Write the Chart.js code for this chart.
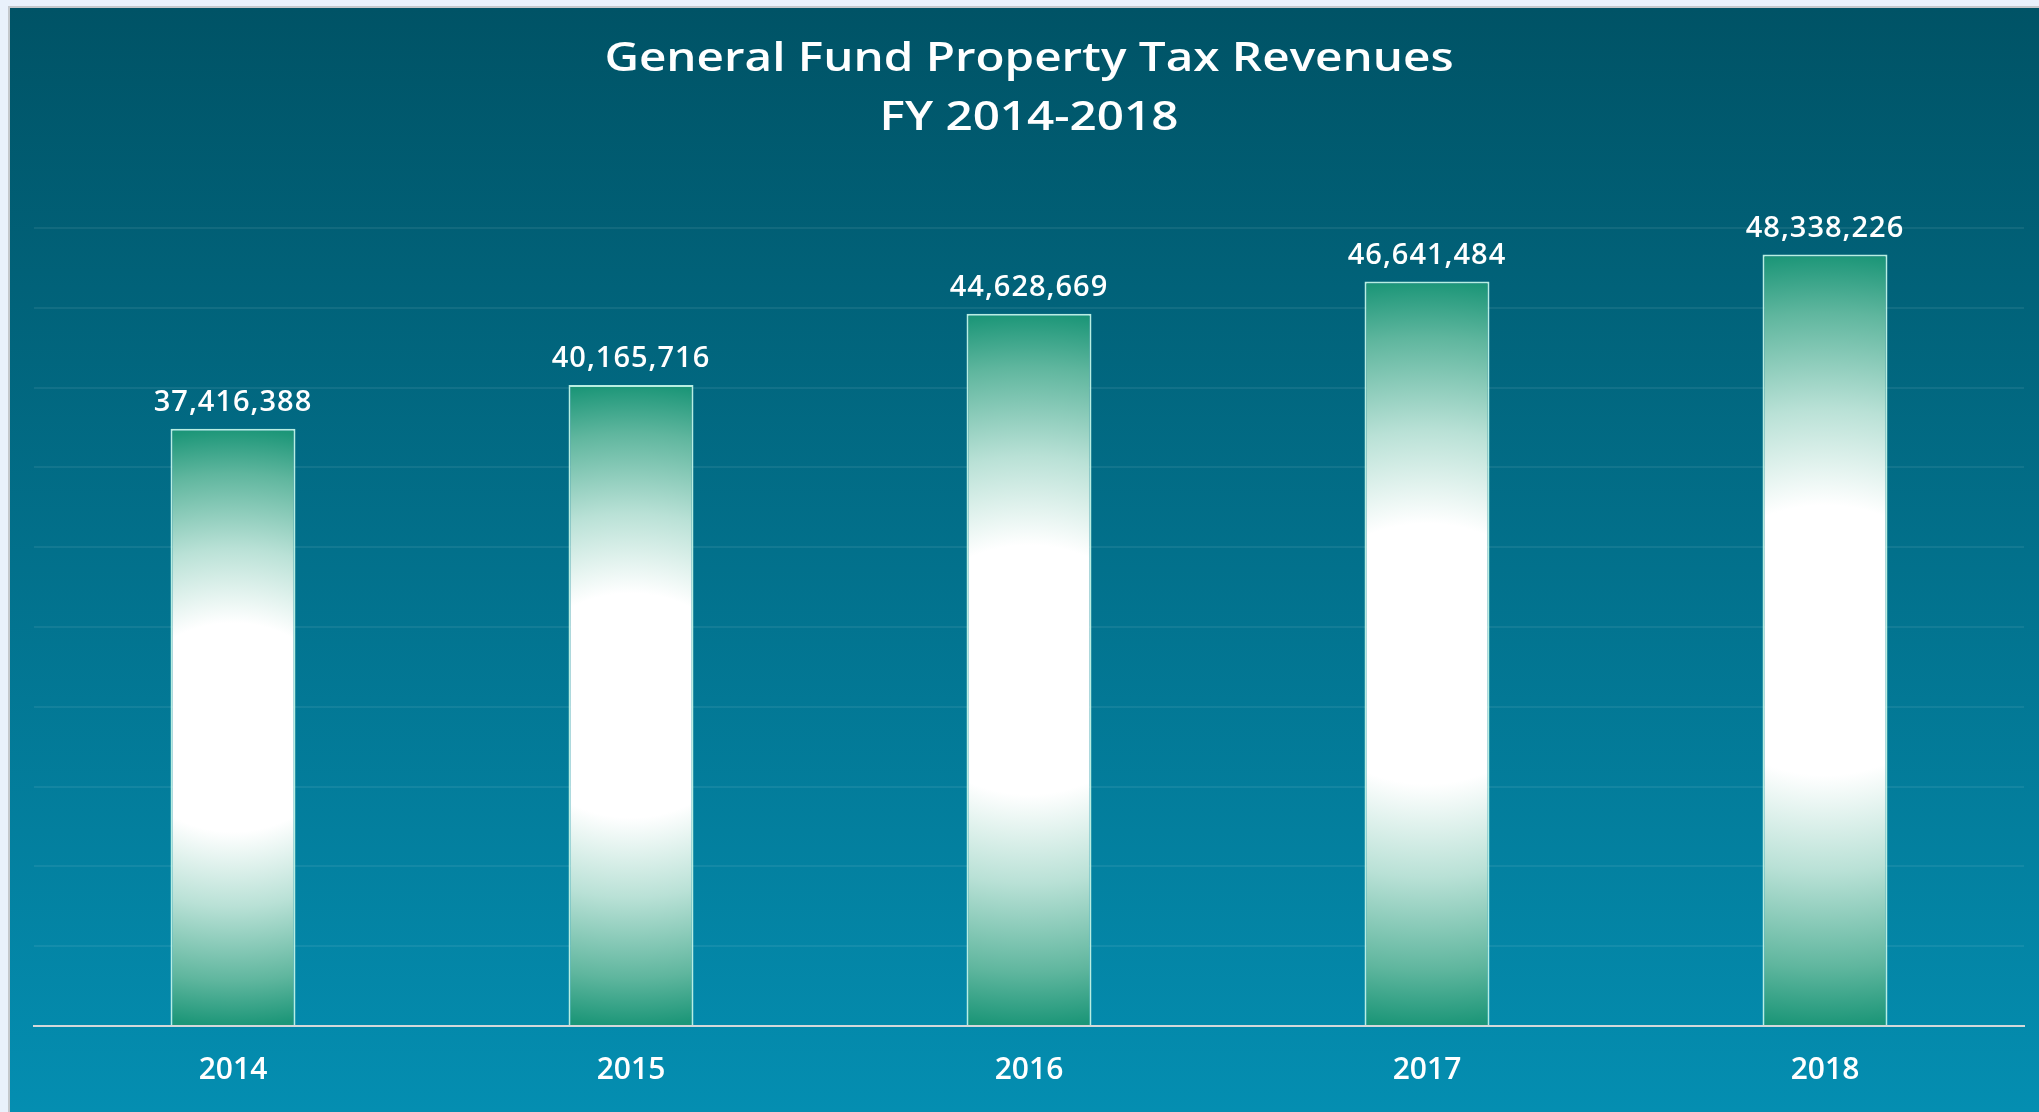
<!DOCTYPE html>
<html>
<head>
<meta charset="utf-8">
<script src="https://cdn.jsdelivr.net/npm/chart.js@4/dist/chart.umd.min.js"></script>
<style>
  html, body { margin: 0; padding: 0; background: #e9f1fb; overflow: hidden; }
  #wrap { position: absolute; left: 0; top: 0; width: 2039px; height: 1112px; }
</style>
</head>
<body>
<div id="wrap"><canvas id="chart" width="2039" height="1112"></canvas></div>
<script>
// chart data
const years = ['2014', '2015', '2016', '2017', '2018'];
const revenues = [37416388, 40165716, 44628669, 46641484, 48338226];
const titleLines = ['General Fund Property Tax Revenues', 'FY 2014-2018'];

const GREEN = '#1c9678';
const FONT = '"Open Sans", "DejaVu Sans", sans-serif';

// page background + teal panel behind the chart
const panelBg = {
  id: 'panelBg',
  beforeDraw(chart) {
    const { ctx, width, height } = chart;
    ctx.save();
    ctx.fillStyle = '#e9f1fb';
    ctx.fillRect(0, 0, width, height);
    const g = ctx.createLinearGradient(0, 8, 0, height);
    g.addColorStop(0, '#005366');
    g.addColorStop(1, '#048eb1');
    ctx.fillStyle = g;
    ctx.fillRect(10, 8, width - 10, height - 8);
    ctx.strokeStyle = '#c4c8cc';
    ctx.lineWidth = 2;
    ctx.beginPath();
    ctx.moveTo(9, height);
    ctx.lineTo(9, 7);
    ctx.lineTo(width, 7);
    ctx.stroke();
    ctx.restore();
  }
};

// two-line title, slightly stretched like the original
const titleText = {
  id: 'titleText',
  afterDraw(chart) {
    const { ctx } = chart;
    const cx = (chart.chartArea.left + chart.chartArea.right) / 2;
    ctx.save();
    ctx.fillStyle = '#ffffff';
    ctx.font = '600 40px ' + FONT;
    ctx.textAlign = 'center';
    ctx.textBaseline = 'middle';
    titleLines.forEach((line, i) => {
      ctx.save();
      ctx.translate(cx, 60 + i * 59);
      ctx.scale(1.19, 1);
      ctx.fillText(line, 0, 0);
      ctx.restore();
    });
    ctx.restore();
  }
};

// value labels above each bar
const valueLabels = {
  id: 'valueLabels',
  afterDatasetsDraw(chart) {
    const { ctx } = chart;
    const meta = chart.getDatasetMeta(0);
    ctx.save();
    ctx.fillStyle = '#ffffff';
    ctx.font = '600 29px ' + FONT;
    ctx.letterSpacing = '1px';
    ctx.textAlign = 'center';
    ctx.textBaseline = 'alphabetic';
    meta.data.forEach((bar, i) => {
      ctx.fillText(revenues[i].toLocaleString('en-US'), bar.x, bar.y - 18);
    });
    ctx.restore();
  }
};

// elliptical white-centre gradient for each bar, as a pattern
function barFill(context) {
  const chart = context.chart;
  const xs = chart.scales.x;
  const ys = chart.scales.y;
  if (!chart.chartArea || !xs || !ys || context.dataIndex === undefined) return GREEN;
  const cx = xs.getPixelForValue(context.dataIndex);
  const top = ys.getPixelForValue(revenues[context.dataIndex]);
  const bottom = ys.getPixelForValue(0);
  const cy = (top + bottom) / 2;
  const half = (bottom - top) / 2;
  if (!(half > 0)) return GREEN;
  const off = document.createElement('canvas');
  off.width = chart.width;
  off.height = chart.height;
  const o = off.getContext('2d');
  o.translate(cx, cy);
  o.scale(1.1, 1);
  const g = o.createRadialGradient(0, 0, 0, 0, 0, half);
  g.addColorStop(0, '#ffffff');
  g.addColorStop(0.35, '#ffffff');
  g.addColorStop(0.6, '#b9e1d6');
  g.addColorStop(0.85, '#5fb69e');
  g.addColorStop(1, GREEN);
  o.fillStyle = g;
  o.fillRect(-200, -half - 10, 400, 2 * half + 20);
  return chart.ctx.createPattern(off, 'no-repeat');
}

new Chart(document.getElementById('chart'), {
  type: 'bar',
  data: {
    labels: years,
    datasets: [{
      data: revenues,
      backgroundColor: barFill,
      borderColor: '#b8eee2',
      borderWidth: 2,
      borderSkipped: 'bottom',
      categoryPercentage: 1,
      barPercentage: 0.314
    }]
  },
  options: {
    responsive: false,
    animation: false,
    layout: { padding: { left: 34, right: 15, top: 228, bottom: -2 } },
    plugins: {
      legend: { display: false },
      tooltip: { enabled: false },
      title: { display: false }
    },
    scales: {
      x: {
        grid: { display: false, drawTicks: false },
        border: { display: true, color: '#d4d8da', width: 2 },
        ticks: {
          color: '#ffffff',
          padding: 26,
          font: { family: FONT, size: 30, weight: '600', lineHeight: 1.2 }
        }
      },
      y: {
        min: 0,
        max: 50000000,
        ticks: { display: false, stepSize: 5000000 },
        border: { display: false },
        grid: { color: 'rgba(255,255,255,0.07)', lineWidth: 2, drawTicks: false }
      }
    }
  },
  plugins: [panelBg, valueLabels, titleText]
});
</script>
</body>
</html>
